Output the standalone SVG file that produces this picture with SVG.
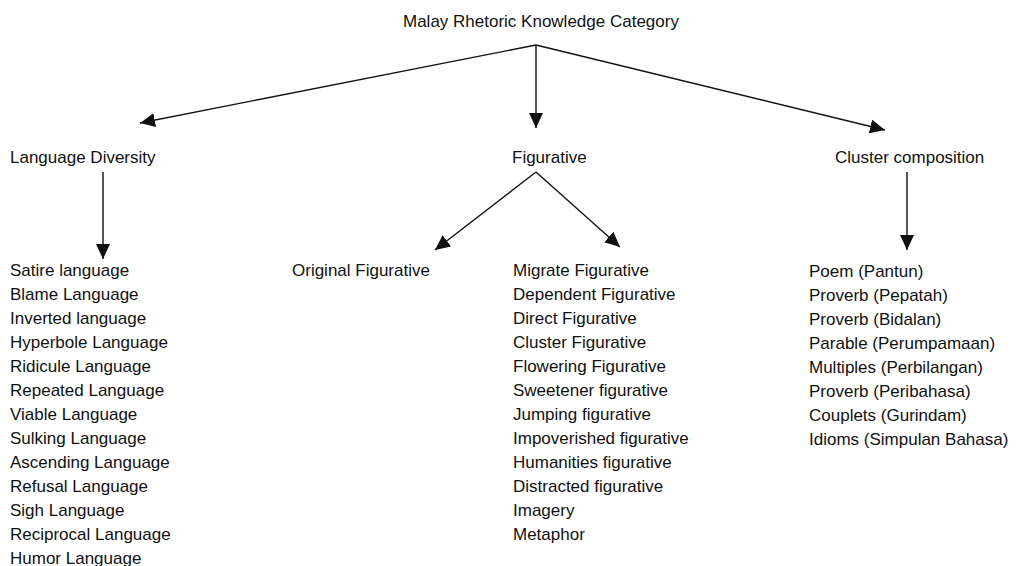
<svg xmlns="http://www.w3.org/2000/svg" width="1019" height="566" viewBox="0 0 1019 566">
<style>
text{font-family:"Liberation Sans",Arial,sans-serif;font-size:17px;fill:#111}
.c{stroke:#111;stroke-width:1.4;fill:none;marker-end:url(#ah)}
</style>
<defs>
<marker id="ah" markerUnits="userSpaceOnUse" markerWidth="16" markerHeight="14" refX="15" refY="7" orient="auto">
<path d="M0,0 L15,7 L0,14 Z" fill="#111"/>
</marker>
</defs>
<rect width="1019" height="566" fill="#fff"/>
<g id="connectors">
<line class="c" x1="536" y1="45" x2="140" y2="123"/>
<line class="c" x1="536" y1="45" x2="536" y2="128"/>
<line class="c" x1="536" y1="45" x2="885" y2="130"/>
<line class="c" x1="103" y1="172" x2="103" y2="259"/>
<line class="c" x1="536" y1="172" x2="435" y2="250"/>
<line class="c" x1="536" y1="172" x2="620" y2="247"/>
<line class="c" x1="907" y1="172" x2="907" y2="250"/>
</g>
<g id="root"><text x="403" y="27">Malay Rhetoric Knowledge Category</text></g>
<g id="language-diversity"><text x="10" y="163">Language Diversity</text></g>
<g id="figurative"><text x="512" y="163">Figurative</text></g>
<g id="cluster-composition"><text x="835" y="163">Cluster composition</text></g>
<g id="language-list">
<text x="10" y="276">Satire language</text>
<text x="10" y="300">Blame Language</text>
<text x="10" y="324">Inverted language</text>
<text x="10" y="348">Hyperbole Language</text>
<text x="10" y="372">Ridicule Language</text>
<text x="10" y="396">Repeated Language</text>
<text x="10" y="420">Viable Language</text>
<text x="10" y="444">Sulking Language</text>
<text x="10" y="468">Ascending Language</text>
<text x="10" y="492">Refusal Language</text>
<text x="10" y="516">Sigh Language</text>
<text x="10" y="540">Reciprocal Language</text>
<text x="10" y="564">Humor Language</text>
</g>
<g id="original-figurative"><text x="292" y="276">Original Figurative</text></g>
<g id="migrate-list">
<text x="513" y="276">Migrate Figurative</text>
<text x="513" y="300">Dependent Figurative</text>
<text x="513" y="324">Direct Figurative</text>
<text x="513" y="348">Cluster Figurative</text>
<text x="513" y="372">Flowering Figurative</text>
<text x="513" y="396">Sweetener figurative</text>
<text x="513" y="420">Jumping figurative</text>
<text x="513" y="444">Impoverished figurative</text>
<text x="513" y="468">Humanities figurative</text>
<text x="513" y="492">Distracted figurative</text>
<text x="513" y="516">Imagery</text>
<text x="513" y="540">Metaphor</text>
</g>
<g id="cluster-list">
<text x="809" y="277">Poem (Pantun)</text>
<text x="809" y="301">Proverb (Pepatah)</text>
<text x="809" y="325">Proverb (Bidalan)</text>
<text x="809" y="349">Parable (Perumpamaan)</text>
<text x="809" y="373">Multiples (Perbilangan)</text>
<text x="809" y="397">Proverb (Peribahasa)</text>
<text x="809" y="421">Couplets (Gurindam)</text>
<text x="809" y="445">Idioms (Simpulan Bahasa)</text>
</g>
</svg>
